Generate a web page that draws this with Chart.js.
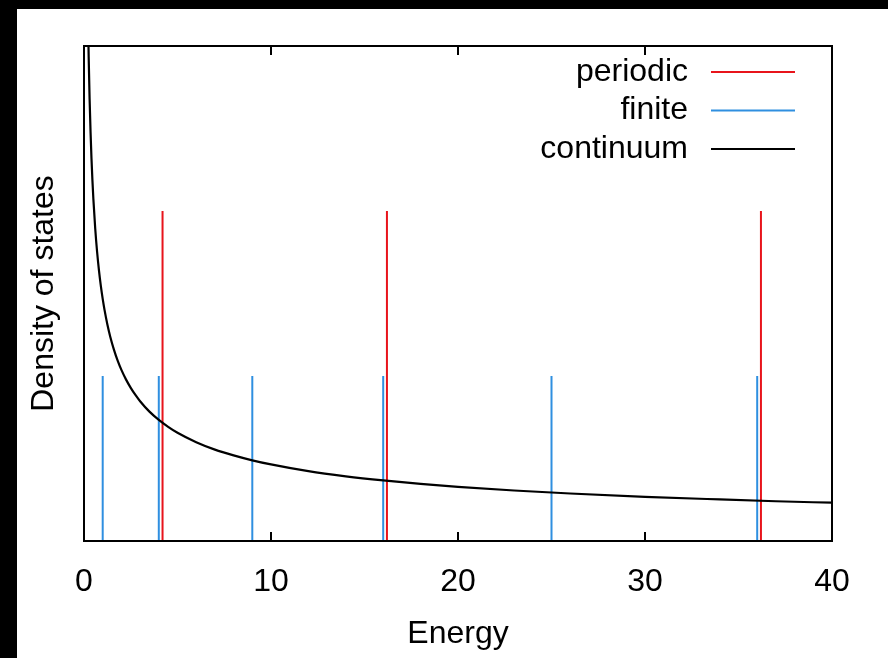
<!DOCTYPE html>
<html>
<head>
<meta charset="utf-8">
<script src="https://cdn.jsdelivr.net/npm/chart.js@4.4.1/dist/chart.umd.min.js"></script>
<style>
  html, body { margin: 0; padding: 0; background: #000; width: 888px; height: 658px; overflow: hidden; }
  #wrap { position: absolute; left: 17px; top: 9px; width: 871px; height: 649px; background: #fff; }
</style>
</head>
<body>
<div id="wrap"><canvas id="c"></canvas></div>
<script>
// ---- data ----
const seriesLabels = ['periodic', 'finite', 'continuum'];
const periodicEnergies = [4.2, 16.2, 36.2];
const periodicHeight = 2;
const finiteEnergies = [1, 4, 9, 16, 25, 36];
const finiteHeight = 1;
const continuumEnergy = [0.15, 0.18, 0.2, 0.22, 0.25, 0.3, 0.35, 0.4, 0.45, 0.5, 0.6, 0.7, 0.8, 0.9, 1, 1.1, 1.25, 1.4, 1.6, 1.8, 2, 2.25, 2.5, 2.75, 3, 3.5, 4, 4.5, 5, 6, 7, 8, 9, 10, 12, 14, 16, 18, 20, 23, 26, 30, 34, 37, 40];
const continuumDOS    = [3.788, 3.458, 3.280, 3.128, 2.934, 2.678, 2.480, 2.319, 2.187, 2.075, 1.894, 1.753, 1.640, 1.546, 1.467, 1.399, 1.312, 1.240, 1.160, 1.093, 1.037, 0.978, 0.928, 0.885, 0.847, 0.784, 0.734, 0.692, 0.656, 0.599, 0.554, 0.519, 0.489, 0.464, 0.423, 0.392, 0.367, 0.346, 0.328, 0.306, 0.288, 0.268, 0.252, 0.241, 0.232];
const xTicks = [0, 10, 20, 30, 40];

const FONT = '"Liberation Sans", Arial, sans-serif';
const FS = 32;

function spikes(energies, h) {
  const pts = [];
  energies.forEach(e => { pts.push({x: e, y: 0}, {x: e, y: h}, {x: e, y: null}); });
  return pts;
}

const framePlugin = {
  id: 'frame',
  afterDatasetsDraw(chart) {
    const {ctx, chartArea: a, scales: {x}} = chart;
    ctx.save();
    ctx.strokeStyle = '#000';
    ctx.lineWidth = 2;
    xTicks.forEach(v => {
      const px = Math.round(x.getPixelForValue(v));
      ctx.beginPath();
      ctx.moveTo(px, a.bottom); ctx.lineTo(px, a.bottom - 9);
      ctx.moveTo(px, a.top); ctx.lineTo(px, a.top + 9);
      ctx.stroke();
    });
    ctx.strokeRect(a.left, a.top, a.right - a.left, a.bottom - a.top);
    ctx.font = FS + 'px ' + FONT;
    ctx.textAlign = 'right';
    ctx.textBaseline = 'middle';
    chart.data.datasets.forEach((ds, i) => {
      const y = 63 + i * 38.5;
      ctx.fillStyle = '#000';
      ctx.fillText(ds.label, 671, y);
      ctx.strokeStyle = ds.borderColor;
      ctx.lineWidth = 2;
      ctx.beginPath();
      ctx.moveTo(694, y); ctx.lineTo(778, y);
      ctx.stroke();
    });
    ctx.restore();
  }
};

new Chart(document.getElementById('c'), {
  type: 'scatter',
  data: {
    datasets: [
      { label: seriesLabels[0], data: spikes(periodicEnergies, periodicHeight), borderColor: '#e8141b', borderWidth: 2, showLine: true, pointRadius: 0, spanGaps: false, order: 2 },
      { label: seriesLabels[1], data: spikes(finiteEnergies, finiteHeight), borderColor: '#2f8fe0', borderWidth: 2, showLine: true, pointRadius: 0, spanGaps: false, order: 1 },
      { label: seriesLabels[2], data: continuumEnergy.map((e, i) => ({x: e, y: continuumDOS[i]})), borderColor: '#000', borderWidth: 2.2, showLine: true, pointRadius: 0, cubicInterpolationMode: 'monotone', order: 0 }
    ]
  },
  options: {
    responsive: true,
    maintainAspectRatio: false,
    animation: false,
    layout: { padding: { left: 0, top: 37, right: 56, bottom: 0 } },
    plugins: { legend: { display: false }, tooltip: { enabled: false } },
    scales: {
      x: {
        type: 'linear', min: 0, max: 40,
        afterBuildTicks(s) { s.ticks = xTicks.map(v => ({value: v})); },
        afterFit(s) { s.height = 117; },
        grid: { display: false, drawTicks: false },
        border: { display: false },
        ticks: { color: '#000', padding: 22, font: { family: FONT, size: FS } },
        title: { display: true, text: 'Energy', color: '#000', padding: { top: 0, bottom: 5 }, font: { family: FONT, size: FS } }
      },
      y: {
        type: 'linear', min: 0, max: 3,
        afterFit(s) { s.width = 67; },
        grid: { display: false, drawTicks: false },
        border: { display: false },
        ticks: { display: false },
        title: { display: true, text: 'Density of states', color: '#000', padding: { top: 8, bottom: 0 }, font: { family: FONT, size: FS } }
      }
    }
  },
  plugins: [framePlugin]
});
</script>
</body>
</html>
